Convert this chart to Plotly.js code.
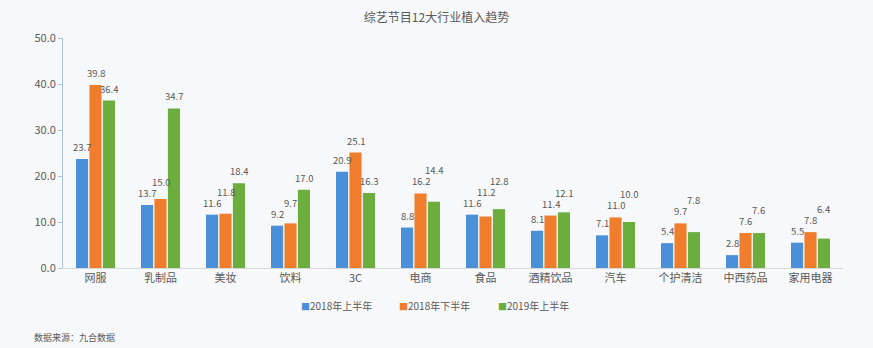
<!DOCTYPE html>
<html><head><meta charset="utf-8">
<script src="https://cdn.plot.ly/plotly-3.0.1.min.js"></script>
<style>html,body{margin:0;padding:0;background:#f7f8fa;}#c{width:873px;height:348px;}</style>
</head><body><div id="c"></div>
<script>
const categories = ['网服','乳制品','美妆','饮料','3C','电商','食品','酒精饮品','汽车','个护清洁','中西药品','家用电器'];
const h1_2018 = [23.7,13.7,11.6,9.2,20.9,8.8,11.6,8.1,7.1,5.4,2.8,5.5];
const h2_2018 = [39.8,15.0,11.8,9.7,25.1,16.2,11.2,11.4,11.0,9.7,7.6,7.8];
const h1_2019 = [36.4,34.7,18.4,17.0,16.3,14.4,12.8,12.1,10.0,7.8,7.6,6.4];
const seriesNames = ['2018年上半年','2018年下半年','2019年上半年'];
const colors = ['#4a90d9','#ef7d2c','#6cae3e'];
const font = '"Noto Sans CJK SC", "Noto Sans", sans-serif';
const series = [h1_2018, h2_2018, h1_2019];

const W = 873, H = 348, M = {l:63, r:30, t:38, b:80};
const yMax = 50, bargap = 0.38;
const plotW = W - M.l - M.r, plotH = H - M.t - M.b;
const slot = plotW / categories.length * (1 - bargap) / 3;

const traces = series.map((v,i)=>({
  type:'bar', x:categories, y:v, name:seriesNames[i],
  marker:{color:colors[i]}, hoverinfo:'none', showlegend:false
}));

// value labels, staggered vertically where adjacent labels would collide
const annotations = [];
categories.forEach((c, k) => {
  let prev = null;
  series.forEach((v, i) => {
    let base = v[k] / yMax * plotH + 3;
    if (prev !== null && Math.abs(base - prev) < 11) base = prev + 11;
    prev = base;
    annotations.push({
      x: c, y: 0, xref:'x', yref:'y', xshift: (i - 1) * slot, yshift: base,
      text: v[k].toFixed(1), showarrow:false, xanchor:'center', yanchor:'bottom',
      font:{size:9.5, color:'#595959', family:font}
    });
  });
});
// compact legend (square marker + name)
seriesNames.forEach((n, i) => {
  annotations.push({
    xref:'paper', yref:'paper', x:0.302 + i * 0.1265, y:-0.165, xanchor:'left', yanchor:'middle',
    showarrow:false, text:'<span style="color:' + colors[i] + ';font-size:9px">■</span>' + n,
    font:{size:10, color:'#595959', family:font}
  });
});
annotations.push({text:'数据来源：九合数据', xref:'paper', yref:'paper', x:-0.04, y:-0.30, xanchor:'left', yanchor:'middle', showarrow:false, font:{size:9, color:'#595959'}});

const layout = {
  width:W, height:H,
  paper_bgcolor:'#f7f8fa', plot_bgcolor:'rgba(0,0,0,0)',
  margin:M,
  font:{family:font, color:'#595959'},
  title:{text:'综艺节目12大行业植入趋势', x:0.5, xanchor:'center', y:0.95, yanchor:'middle', font:{size:12, color:'#595959', family:font}},
  barmode:'group', bargap:bargap, bargroupgap:0.1,
  xaxis:{type:'category', showline:true, linecolor:'#d9d9d9', linewidth:1, ticks:'', tickfont:{size:11, color:'#595959'}, showgrid:false},
  yaxis:{range:[0,yMax], dtick:10, tickformat:'.1f', showgrid:false, zeroline:false, showline:true, linecolor:'#a9c4de', ticks:'outside', ticklen:4, tickcolor:'#a9c4de', tickfont:{size:11, color:'#595959'}},
  showlegend:false,
  annotations:annotations
};
Plotly.newPlot('c', traces, layout, {displayModeBar:false});
</script></body></html>
